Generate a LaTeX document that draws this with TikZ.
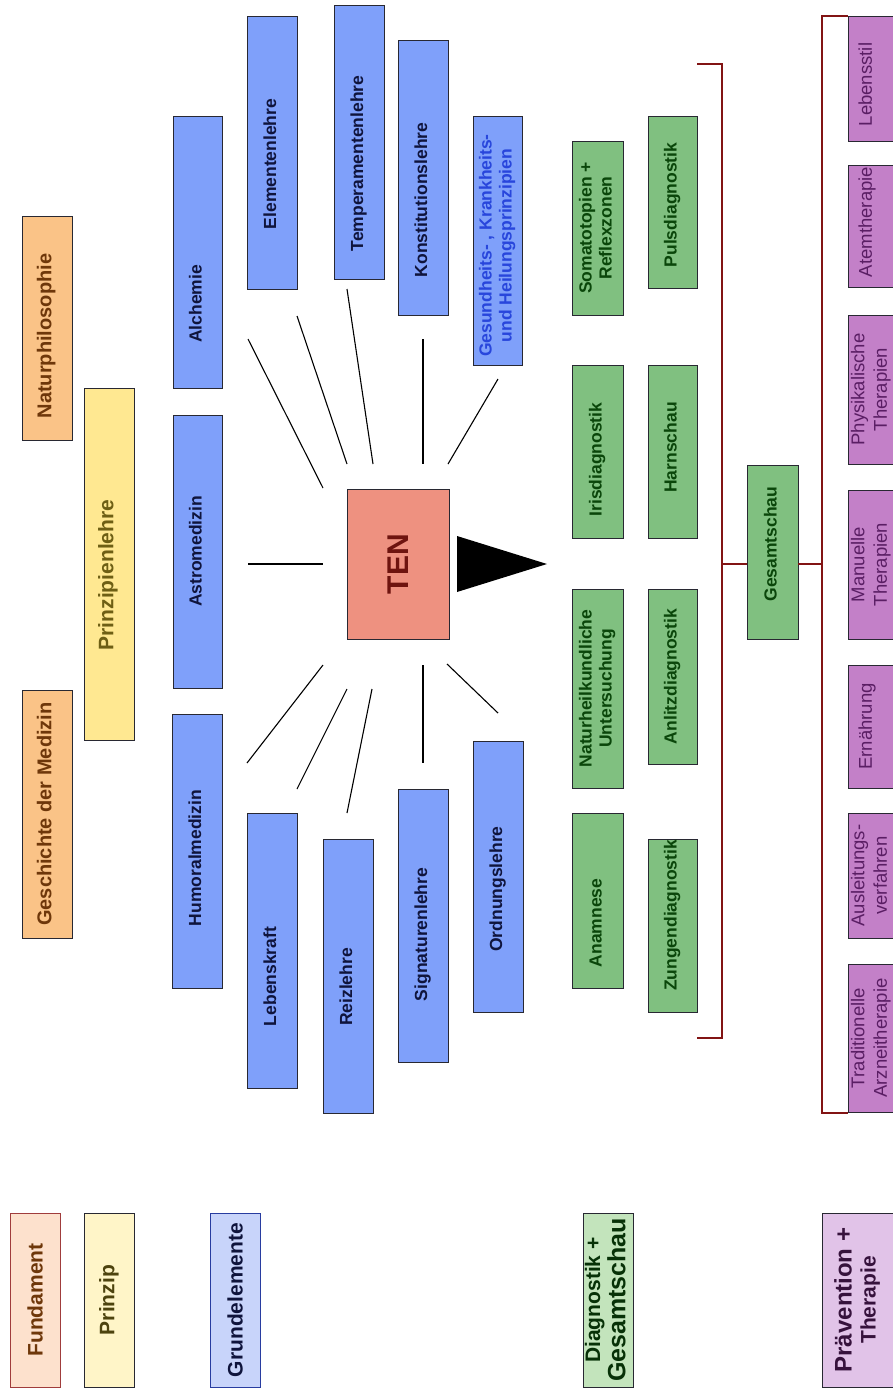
\documentclass[tikz,border=0pt]{standalone}
\usepackage{fontspec}
\setmainfont{Liberation Sans}
\definecolor{blueF}{RGB}{127,160,250}
\definecolor{greenF}{RGB}{128,192,128}
\definecolor{orangeF}{RGB}{250,195,135}
\definecolor{yellowF}{RGB}{255,232,145}
\definecolor{tenF}{RGB}{238,145,128}
\definecolor{purpleF}{RGB}{195,128,200}
\definecolor{edgeC}{RGB}{40,40,50}
\definecolor{brkC}{RGB}{130,20,20}
\definecolor{blueT}{RGB}{15,20,60}
\definecolor{gesT}{RGB}{40,70,220}
\definecolor{greenT}{RGB}{10,70,10}
\definecolor{orangeT}{RGB}{110,55,10}
\definecolor{yellowT}{RGB}{110,95,20}
\definecolor{tenT}{RGB}{110,20,15}
\definecolor{purpleT}{RGB}{90,30,100}
\definecolor{fundF}{RGB}{253,225,205}
\definecolor{fundE}{RGB}{160,60,60}
\definecolor{prinzF}{RGB}{255,245,200}
\definecolor{grundF}{RGB}{200,212,250}
\definecolor{grundE}{RGB}{40,60,160}
\definecolor{diagF}{RGB}{195,228,188}
\definecolor{praevF}{RGB}{225,195,232}
% #1: twice the shift towards the start of the text, #2: twice the shift to the left (page), #3: lines
\newcommand\lblx[3]{\raisebox{#2pt}{\begin{tabular}{@{}c@{}}#3\end{tabular}}\hspace*{#1pt}}
\begin{document}
\begin{tikzpicture}[x=1pt,y=-1pt,
  base/.style={rotate=90, inner sep=0pt, line width=0.9pt, draw=edgeC},
  dims/.style 2 args={minimum width=#1pt, minimum height=#2pt},
  blu/.style={base, fill=blueF, text=blueT, font=\bfseries\fontsize{17.5}{20}\selectfont},
  grn/.style={base, fill=greenF, text=greenT, font=\bfseries\fontsize{17.5}{20}\selectfont},
  pur/.style={base, fill=purpleF, text=purpleT, font=\fontsize{18.5}{22.5}\selectfont},
  org/.style={base, fill=orangeF, text=orangeT, font=\bfseries\fontsize{20}{22}\selectfont},
  yel/.style={base, fill=yellowF, text=yellowT, font=\bfseries\fontsize{21}{22}\selectfont},
  leg/.style={base, font=\bfseries\fontsize{21}{24}\selectfont},
  spoke/.style={line width=1.1pt, draw=black},
  brk/.style={line width=1.2pt, draw=brkC}
]
\useasboundingbox (0,0) rectangle (893,1389);
\clip (0,0) rectangle (893,1389);
\fill[white] (0,0) rectangle (893,1389);

% legend
\node[leg, dims={174}{50}, fill=fundF, draw=fundE, text=orangeT] (fund) at (35,1300) {Fundament};
\node[leg, dims={174}{50}, fill=prinzF, text=yellowT!70!black] (prinz) at (109,1300) {Prinzip};
\node[leg, dims={174}{50}, fill=grundF, draw=grundE, text=blueT] (grund) at (235,1300) {Grundelemente};
\node[leg, dims={174}{50}, fill=diagF, text=greenT!70!black] (diag) at (608,1300) {\lblx{0}{0}{Diagnostik +\\{\fontsize{25}{24}\selectfont Gesamtschau}}};
\node[leg, dims={174}{73}, fill=praevF, text=purpleT!60!black] (praev) at (858.5,1300) {\lblx{0}{0}{{\fontsize{24}{24}\selectfont Prävention +}\\Therapie}};

% Fundament / Prinzip
\node[org, dims={224}{50}] (natur) at (47,328) {\lblx{16}{0}{Naturphilosophie}};
\node[org, dims={248}{50}] (gesch) at (47,814) {\lblx{0}{0}{Geschichte der Medizin}};
\node[yel, dims={352}{50}] (prinzl) at (109,564) {\lblx{22}{0}{Prinzipienlehre}};

% Grundelemente
\node[blu, dims={272}{49}] (alch) at (197.5,252) {\lblx{104}{0}{Alchemie}};
\node[blu, dims={273}{49}] (astro) at (197.5,551.5) {\lblx{0}{0}{Astromedizin}};
\node[blu, dims={274}{50}] (humor) at (197,851) {\lblx{14}{0}{Humoralmedizin}};
\node[blu, dims={273}{50}] (elem) at (272,152.5) {\lblx{23}{0}{Elementenlehre}};
\node[blu, dims={274}{50}] (temp) at (359,142) {\lblx{43}{0}{Temperamentenlehre}};
\node[blu, dims={275}{50}] (konst) at (423,177.5) {\lblx{45}{0}{Konstitutionslehre}};
\node[blu, dims={249}{49}, text=gesT] (gesund) at (497.5,240.5) {\lblx{10}{0}{Gesundheits- , Krankheits-\\und Heilungsprinzipien}};
\node[blu, dims={275}{50}] (lebkraft) at (272,950.5) {\lblx{52}{0}{Lebenskraft}};
\node[blu, dims={274}{50}] (reiz) at (348,976) {\lblx{22}{0}{Reizlehre}};
\node[blu, dims={273}{50}] (sign) at (423,925.5) {\lblx{18}{0}{Signaturenlehre}};
\node[blu, dims={271}{50}] (ordn) at (498,876.5) {\lblx{25}{0}{Ordnungslehre}};

% centre
\node[base, dims={150}{102}, fill=tenF, text=tenT, font=\bfseries\fontsize{30}{30}\selectfont] (ten) at (398,564) {TEN};
\fill[black] (457,536) -- (547,564) -- (457,592) -- cycle;

% spokes
\coordinate (s1a) at (248,564); \coordinate (s1b) at (323,564);
\draw[spoke] (s1a) -- (s1b);
\coordinate (u1a) at (248,339); \coordinate (u1b) at (323,488);
\coordinate (u2a) at (297,316); \coordinate (u2b) at (347,464);
\coordinate (u3a) at (347,289); \coordinate (u3b) at (373,464);
\coordinate (u4a) at (423,339); \coordinate (u4b) at (423,464);
\coordinate (u5a) at (498,379); \coordinate (u5b) at (448,464);
\draw[spoke] (u1a) -- (u1b);
\draw[spoke] (u2a) -- (u2b);
\draw[spoke] (u3a) -- (u3b);
\draw[spoke] (u4a) -- (u4b);
\draw[spoke] (u5a) -- (u5b);
\coordinate (d1a) at (323,665); \coordinate (d1b) at (247,763);
\coordinate (d2a) at (347,689); \coordinate (d2b) at (297,789);
\coordinate (d3a) at (372,689); \coordinate (d3b) at (347,813);
\coordinate (d4a) at (423,665); \coordinate (d4b) at (423,763);
\coordinate (d5a) at (447,664); \coordinate (d5b) at (498,713);
\draw[spoke] (d1a) -- (d1b);
\draw[spoke] (d2a) -- (d2b);
\draw[spoke] (d3a) -- (d3b);
\draw[spoke] (d4a) -- (d4b);
\draw[spoke] (d5a) -- (d5b);

% Diagnostik
\node[grn, dims={174}{51}] (soma) at (597.5,228) {\lblx{0}{0}{Somatotopien +\\Reflexzonen}};
\node[grn, dims={172}{49}] (puls) at (672.5,202) {\lblx{6}{0}{Pulsdiagnostik}};
\node[grn, dims={173}{51}] (iris) at (597.5,451.5) {\lblx{16}{0}{Irisdiagnostik}};
\node[grn, dims={173}{49}] (harn) at (672.5,451.5) {\lblx{-8}{0}{Harnschau}};
\node[grn, dims={199}{51}] (natu) at (597.5,688.5) {\lblx{0}{0}{Naturheilkundliche\\Untersuchung}};
\node[grn, dims={175}{49}] (anlitz) at (672.5,676.5) {\lblx{0}{0}{Anlitzdiagnostik}};
\node[grn, dims={175}{51}] (anam) at (597.5,900.5) {\lblx{45}{0}{Anamnese}};
\node[grn, dims={173}{49}] (zunge) at (672.5,925.5) {\lblx{-20}{0}{Zungendiagnostik}};
\node[grn, dims={174}{51}] (gesamt) at (772.5,552) {\lblx{-16}{0}{Gesamtschau}};

% brackets
\coordinate (b1t) at (697,64); \coordinate (b1b) at (697,1038);
\draw[brk] (b1t) -- (722,64) -- (722,1038) -- (b1b);
\coordinate (b2t) at (848,16); \coordinate (b2b) at (848,1113);
\draw[brk] (b2t) -- (822,16) -- (822,1113) -- (b2b);
\coordinate (bl) at (722,564); \coordinate (br) at (822,564);
\draw[brk] (bl) -- (gesamt.north |- bl);
\draw[brk] (gesamt.south |- br) -- (br);

% Therapie
\node[pur, dims={125}{46}] (lebstil) at (871,78.5) {\lblx{12}{14}{Lebensstil}};
\node[pur, dims={122}{46}] (atem) at (871,226) {\lblx{-8}{14}{Atemtherapie}};
\node[pur, dims={149}{46}] (phys) at (871,389.5) {\lblx{0}{0}{Physikalische\\Therapien}};
\node[pur, dims={149}{46}] (manu) at (871,564.5) {\lblx{0}{0}{Manuelle\\Therapien}};
\node[pur, dims={123}{46}] (ernae) at (871,726.5) {\lblx{0}{14}{Ernährung}};
\node[pur, dims={125}{46}] (ausl) at (871,875.5) {\lblx{0}{0}{Ausleitungs-\\verfahren}};
\node[pur, dims={148}{46}] (trad) at (871,1038) {\lblx{0}{0}{Traditionelle\\Arzneitherapie}};
\end{tikzpicture}
\end{document}
